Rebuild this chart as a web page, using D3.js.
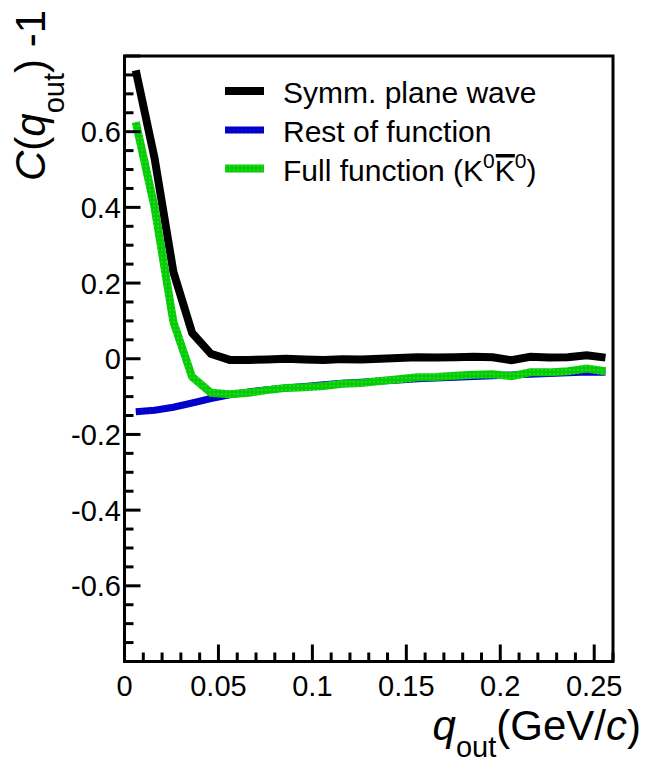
<!DOCTYPE html>
<html>
<head>
<meta charset="utf-8">
<script src="https://cdn.jsdelivr.net/npm/d3@7"></script>
<style>
  html, body { margin: 0; padding: 0; background: #fff; }
  svg { display: block; font-family: "Liberation Sans", Arial, Helvetica, sans-serif; }
</style>
</head>
<body>
<svg id="chart" width="648" height="762"></svg>
<script>
// ---- Data ----
const qValues = [0.006, 0.016, 0.026, 0.036, 0.046, 0.056, 0.066, 0.076, 0.086, 0.096,
                 0.106, 0.116, 0.126, 0.136, 0.146, 0.156, 0.166, 0.176, 0.186, 0.196,
                 0.206, 0.216, 0.226, 0.236, 0.246, 0.256];
const symmPlaneWave = [0.762, 0.530, 0.230, 0.068, 0.013, -0.003, -0.003, -0.002, 0.000, -0.002,
                       -0.003, -0.001, -0.002, 0.000, 0.002, 0.004, 0.003, 0.004, 0.005, 0.004,
                       -0.004, 0.005, 0.003, 0.004, 0.009, 0.003];
const restOfFunction = [-0.140, -0.136, -0.128, -0.117, -0.105, -0.095, -0.088, -0.082, -0.077, -0.073,
                        -0.069, -0.065, -0.062, -0.059, -0.056, -0.053, -0.051, -0.049, -0.047, -0.045,
                        -0.043, -0.041, -0.039, -0.037, -0.035, -0.036];
const fullFunction = [0.625, 0.400, 0.098, -0.048, -0.090, -0.094, -0.090, -0.083, -0.077, -0.075,
                      -0.072, -0.066, -0.064, -0.059, -0.054, -0.049, -0.048, -0.045, -0.042, -0.041,
                      -0.046, -0.036, -0.036, -0.033, -0.026, -0.033];
const seriesNames = ["Symm. plane wave", "Rest of function", "Full function"];
const xTickValues = [0, 0.05, 0.1, 0.15, 0.2, 0.25];
const xTickLabels = ["0", "0.05", "0.1", "0.15", "0.2", "0.25"];
const yTickValues = [0.6, 0.4, 0.2, 0, -0.2, -0.4, -0.6];
const yTickLabels = ["0.6", "0.4", "0.2", "0", "-0.2", "-0.4", "-0.6"];

// ---- Layout ----
const svg = d3.select("#chart");
const L = 124.5, R = 613, T = 56, B = 661.5;
const x = d3.scaleLinear().domain([0, 0.26]).range([L, R]);
const y = d3.scaleLinear().domain([-0.8, 0.8]).range([B, T]);

const defs = svg.append("defs");
const pat = defs.append("pattern").attr("id", "greenTex")
  .attr("patternUnits", "userSpaceOnUse").attr("width", 4).attr("height", 4);
pat.append("rect").attr("width", 4).attr("height", 4).attr("fill", "#06cc06");
pat.append("rect").attr("x", 1).attr("y", 1).attr("width", 2).attr("height", 2).attr("fill", "#22d622");
const patB = defs.append("pattern").attr("id", "blueTex")
  .attr("patternUnits", "userSpaceOnUse").attr("width", 4).attr("height", 4);
patB.append("rect").attr("width", 4).attr("height", 4).attr("fill", "#0000c8");
patB.append("rect").attr("x", 1).attr("y", 1).attr("width", 2).attr("height", 2).attr("fill", "#0808d4");

const styles = [
  { values: symmPlaneWave, stroke: "#000000", width: 8 },
  { values: restOfFunction, stroke: "url(#blueTex)", width: 7 },
  { values: fullFunction, stroke: "url(#greenTex)", width: 8 }
];

// ---- Curves ----
const plot = svg.append("g");
const line = d3.line().x(d => x(d[0])).y(d => y(d[1]));
styles.forEach(s => {
  plot.append("path")
    .datum(qValues.map((q, i) => [q, s.values[i]]))
    .attr("d", line)
    .attr("fill", "none")
    .attr("stroke", s.stroke)
    .attr("stroke-width", s.width)
    .attr("stroke-linejoin", "miter")
    .attr("stroke-linecap", "butt");
});

// ---- Frame ----
svg.append("rect").attr("x", L).attr("y", T).attr("width", R - L).attr("height", B - T)
  .attr("fill", "none").attr("stroke", "#000").attr("stroke-width", 3);

// ---- X axis ticks (inward) ----
const xTicksAll = d3.range(0, 27).map(i => i * 0.01);
const xAxisG = svg.append("g");
xTicksAll.forEach((t, i) => {
  const major = i % 5 === 0;
  xAxisG.append("line")
    .attr("x1", x(t)).attr("x2", x(t))
    .attr("y1", B).attr("y2", B - (major ? 17 : 9))
    .attr("stroke", "#000").attr("stroke-width", 3);
});
xTickValues.forEach((t, i) => {
  xAxisG.append("text").attr("x", x(t)).attr("y", B + 34)
    .attr("text-anchor", "middle").attr("font-size", 29).text(xTickLabels[i]);
});

// ---- Y axis ticks (inward) ----
const yAxisG = svg.append("g");
d3.range(-16, 17).forEach(k => {
  const t = k * 0.05;
  const major = k % 4 === 0;
  yAxisG.append("line")
    .attr("x1", L).attr("x2", L + (major ? 16 : 9))
    .attr("y1", y(t)).attr("y2", y(t))
    .attr("stroke", "#000").attr("stroke-width", 3);
});
yTickValues.forEach((t, i) => {
  yAxisG.append("text").attr("x", 121).attr("y", y(t) + 10.5)
    .attr("text-anchor", "end").attr("font-size", 29).text(yTickLabels[i]);
});

// ---- Axis titles ----
const xt = svg.append("text").attr("x", 641).attr("y", 740)
  .attr("text-anchor", "end").attr("font-size", 42);
xt.append("tspan").attr("font-style", "italic").text("q");
xt.append("tspan").attr("font-size", 29).attr("dy", 17).text("out");
xt.append("tspan").attr("dy", -17).text("(GeV/");
xt.append("tspan").attr("font-style", "italic").text("c");
xt.append("tspan").text(")");

const yt = svg.append("text").attr("transform", "translate(45,10) rotate(-90)")
  .attr("text-anchor", "end").attr("font-size", 42);
yt.append("tspan").attr("font-style", "italic").text("C");
yt.append("tspan").text("(");
yt.append("tspan").attr("font-style", "italic").text("q");
yt.append("tspan").attr("font-size", 29).attr("dy", 19).text("out");
yt.append("tspan").attr("dy", -19).text(") -1");

// ---- Legend ----
const legY = [91, 130, 168.5];
const leg = svg.append("g");
styles.forEach((s, i) => {
  leg.append("line").attr("x1", 225).attr("x2", 264)
    .attr("y1", legY[i]).attr("y2", legY[i])
    .attr("stroke", s.stroke).attr("stroke-width", s.width);
});
leg.append("text").attr("x", 283).attr("y", legY[0] + 12).attr("font-size", 30).text(seriesNames[0]);
leg.append("text").attr("x", 283).attr("y", legY[1] + 12).attr("font-size", 30).text(seriesNames[1]);
const t3 = leg.append("text").attr("x", 283).attr("y", legY[2] + 12).attr("font-size", 30);
t3.append("tspan").text(seriesNames[2] + " (K");
t3.append("tspan").attr("font-size", 21).attr("dy", -13).text("0");
t3.append("tspan").attr("dy", 13).text("K");
t3.append("tspan").attr("font-size", 21).attr("dy", -13).text("0");
t3.append("tspan").attr("dy", 13).text(")");
// overline over the anti-K
const fullStr = seriesNames[2] + " (K0";
const idx = fullStr.length; // index of the barred K
const ext = t3.node().getExtentOfChar(idx);
leg.append("rect").attr("x", ext.x + 1).attr("y", legY[2] - 14.5)
  .attr("width", ext.width - 1).attr("height", 3.5).attr("fill", "#000");
</script>
</body>
</html>
